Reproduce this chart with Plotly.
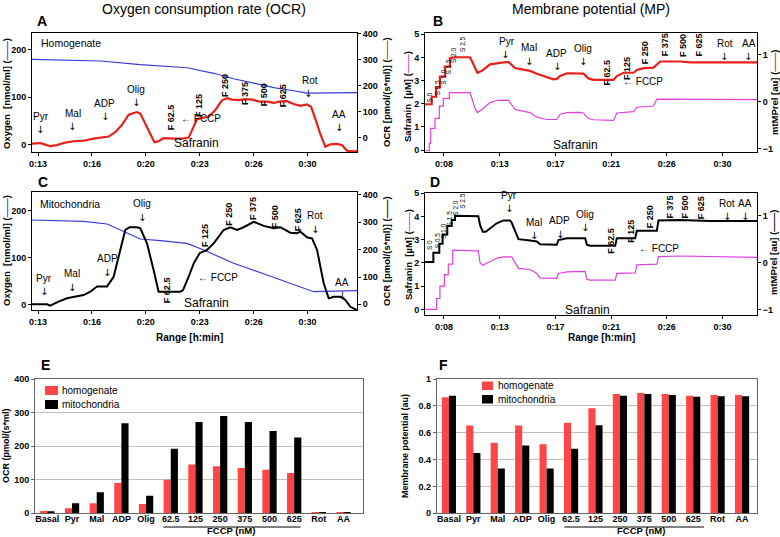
import plotly.graph_objects as go

W, H = 780, 537
FONT = "Liberation Sans, Arial, sans-serif"
ARROW_FONT = "DejaVu Sans, Liberation Sans, sans-serif"
RED = "#e8201c"
BLUE = "#3a3ad8"
PINK = "#e040e0"
BAR_RED = "#ff4545"

# ---------------- DATA ----------------
# Panel A (homogenate), time in minutes
a_o2_t = [12.96, 17.19, 19.66, 22.55, 24.2, 25.43, 26.67, 27.91, 29.14, 29.97, 33.06]
a_o2 = [178.8, 175.6, 167.8, 161.4, 149.8, 138.3, 129.3, 119.6, 113.2, 108.0, 109.3]
a_ocr_t = [12.96, 13.47, 13.78, 14.09, 14.5, 15.02, 15.54, 16.15, 16.77, 17.39, 17.7, 18.11,
           18.53, 18.94, 19.25, 19.45, 19.66, 19.97, 20.28, 20.53, 20.79, 21.1, 21.72, 22.24,
           22.65, 22.92, 23.16, 23.47, 23.89, 24.3, 24.71, 25.02, 25.33, 25.74, 26.15, 26.57,
           26.98, 27.5, 27.91, 28.32, 28.73, 29.14, 29.56, 29.97, 30.22, 30.49, 30.8, 31.1,
           31.41, 31.83, 32.14, 32.44, 32.75, 33.06]
a_ocr = [-23, -21, -27, -33, -29, -19, -14, -12, -4, 0, 4, 21, 49, 88, 94, 98, 92, 53, 18, -18,
         -14, -2, -4, -4, 0, 41, 70, 76, 80, 106, 143, 151, 146, 144, 148, 146, 139, 138, 133,
         139, 140, 129, 122, 127, 118, 71, 12, -35, -26, -24, -29, -50, -53, -52]

# Panel C (mitochondria)
c_o2_t = [12.96, 16.15, 17.6, 18.63, 19.66, 20.9, 22.55, 23.58, 25.43, 27.5, 29.56, 30.38, 33.06]
c_o2 = [180.7, 177.9, 172.1, 155.7, 140.0, 136.4, 130.7, 116.4, 87.9, 62.9, 37.9, 27.1, 29.3]
c_ocr_t = [12.96, 13.89, 14.09, 14.6, 15.12, 15.74, 16.15, 16.57, 16.98, 17.6, 18.01, 18.42,
           18.73, 19.0, 19.45, 19.66, 20.07, 20.48, 20.79, 22.13, 22.3, 22.65, 22.96, 23.33,
           23.78, 24.2, 24.81, 25.23, 25.64, 26.05, 26.67, 27.29, 27.91, 28.32, 28.94, 29.35,
           29.56, 29.97, 30.28, 30.59, 31.0, 31.31, 31.62, 32.03, 32.34, 32.65, 33.06]
c_ocr = [0, 0, -5, 10, 22, 28, 34, 46, 65, 65, 101, 199, 272, 282, 282, 278, 223, 126, 46, 46,
         52, 101, 150, 187, 199, 223, 272, 282, 272, 282, 302, 287, 278, 282, 262, 260, 266,
         245, 241, 199, 77, 22, 28, 28, 16, -9, -21]

# Panel B (homogenate membrane potential)
b_mp_t = [7.1, 7.63, 7.63, 7.97, 7.97, 8.28, 8.28, 8.68, 8.68, 9.07, 9.07, 9.47, 10.66, 11.05,
          11.24, 11.6, 12.24, 13.29, 13.69, 14.21, 14.87, 15.4, 15.93, 16.72, 17.24, 17.51,
          17.77, 18.3, 19.35, 19.61, 20.01, 20.41, 21.99, 22.25, 22.78, 23.57, 23.83, 24.36,
          25.15, 25.41, 25.68, 27.26, 28.05, 33.32]
b_mp = [-0.05, -0.05, 0.11, 0.11, 0.31, 0.31, 0.54, 0.54, 0.75, 0.75, 0.93, 0.95, 0.95, 0.75,
        0.62, 0.66, 0.8, 0.84, 0.85, 0.72, 0.68, 0.66, 0.6, 0.52, 0.48, 0.49, 0.55, 0.61, 0.61,
        0.6, 0.5, 0.47, 0.47, 0.55, 0.62, 0.62, 0.68, 0.72, 0.73, 0.79, 0.86, 0.86, 0.84, 0.84]
b_saf_t = [7.1, 7.44, 7.44, 7.55, 7.55, 7.89, 7.89, 8.23, 8.23, 8.55, 8.55, 9.02, 9.02, 10.66,
           11.05, 11.24, 11.6, 12.24, 12.76, 13.69, 14.21, 14.87, 15.4, 15.93, 16.72, 17.51,
           17.77, 18.3, 19.35, 19.61, 20.01, 20.41, 21.99, 22.25, 23.57, 23.83, 25.15, 25.41,
           28.05, 33.32]
b_saf = [-0.03, -0.03, 0.29, 0.29, 0.94, 0.94, 1.37, 1.37, 1.9, 1.9, 2.23, 2.23, 2.48, 2.48,
         1.8, 1.62, 1.75, 2.05, 2.14, 2.16, 1.75, 1.66, 1.62, 1.42, 1.32, 1.32, 1.55, 1.62, 1.63,
         1.6, 1.36, 1.31, 1.28, 1.6, 1.66, 1.85, 1.9, 2.2, 2.2, 2.18]

# Panel D (mitochondria membrane potential)
d_mp_t = [7.1, 7.76, 7.76, 8.23, 8.23, 8.49, 8.49, 8.86, 8.86, 9.21, 9.21, 9.47, 9.47, 11.31,
          11.45, 11.66, 11.9, 12.76, 13.29, 13.82, 13.95, 14.48, 15.4, 15.93, 16.19, 17.51,
          17.64, 18.3, 19.75, 19.88, 20.14, 22.12, 22.25, 23.7, 23.83, 25.41, 25.54, 27.26,
          29.63, 33.32]
d_mp = [0.01, 0.01, 0.21, 0.21, 0.4, 0.4, 0.6, 0.6, 0.78, 0.78, 0.91, 0.91, 1.0, 0.99, 0.8,
        0.66, 0.66, 0.84, 0.9, 0.9, 0.85, 0.5, 0.47, 0.45, 0.39, 0.38, 0.48, 0.52, 0.52, 0.38,
        0.36, 0.36, 0.52, 0.52, 0.68, 0.68, 0.9, 0.91, 0.89, 0.89]
d_saf_t = [7.1, 8.02, 8.02, 8.28, 8.28, 8.63, 8.63, 8.94, 8.94, 9.29, 9.29, 11.31, 11.45, 11.66,
           12.0, 12.76, 13.29, 13.95, 14.48, 15.4, 15.93, 16.19, 17.51, 17.64, 18.3, 19.75,
           19.88, 20.14, 22.12, 22.25, 23.7, 23.83, 25.41, 25.54, 27.26, 33.32]
d_saf = [0, 0, 0.47, 0.47, 1.0, 1.0, 1.5, 1.5, 1.95, 1.95, 2.55, 2.52, 2.0, 1.9, 2.0, 2.2, 2.26,
         2.26, 1.77, 1.72, 1.55, 1.36, 1.34, 1.55, 1.62, 1.64, 1.3, 1.26, 1.26, 1.55, 1.57,
         1.92, 1.95, 2.27, 2.3, 2.24]

# Time tick labels
ac_tickvals = [13.333, 16.667, 20.0, 23.333, 26.667, 30.0]
ac_ticktext = ["0:13", "0:16", "0:20", "0:23", "0:26", "0:30"]
bd_tickvals = [8.6, 13.0, 17.4, 21.8, 26.2, 30.6]
bd_ticktext = ["0:08", "0:13", "0:17", "0:21", "0:26", "0:30"]

# Bar panels
categories = ["Basal", "Pyr", "Mal", "ADP", "Olig", "62.5", "125", "250", "375", "500", "625",
              "Rot", "AA"]
e_homogenate = [7, 15, 30, 90, 28, 100, 145, 140, 135, 130, 120, 4, 4]
e_mitochondria = [6, 30, 63, 268, 52, 192, 272, 290, 272, 245, 226, 3, 4]
f_homogenate = [0.864, 0.653, 0.526, 0.653, 0.514, 0.675, 0.782, 0.888, 0.896, 0.888, 0.876,
                0.881, 0.881]
f_mitochondria = [0.876, 0.449, 0.333, 0.504, 0.333, 0.481, 0.655, 0.876, 0.888, 0.881, 0.868,
                  0.871, 0.871]
series_names = ["homogenate", "mitochondria"]


def px_x(p):
    return p / W


def px_y(p):
    return 1 - p / H


fig = go.Figure()

def line(x, y, xa, ya, color, width):
    fig.add_trace(go.Scatter(x=x, y=y, xaxis=xa, yaxis=ya, mode="lines",
                             line=dict(color=color, width=width), showlegend=False,
                             hoverinfo="skip"))

line(a_o2_t, a_o2, "x", "y", BLUE, 1.2)
line(a_ocr_t, a_ocr, "x", "y2", RED, 2.2)
line(b_saf_t, b_saf, "x2", "y3", PINK, 1.2)
line(b_mp_t, b_mp, "x2", "y4", RED, 2.2)
line(c_o2_t, c_o2, "x3", "y5", BLUE, 1.2)
line(c_ocr_t, c_ocr, "x3", "y6", "black", 2.0)
line(d_saf_t, d_saf, "x4", "y7", PINK, 1.2)
line(d_mp_t, d_mp, "x4", "y8", "black", 2.0)

for vals, color, name, xa, ya in [(e_homogenate, BAR_RED, series_names[0], "x5", "y9"),
                                  (e_mitochondria, "black", series_names[1], "x5", "y9"),
                                  (f_homogenate, BAR_RED, series_names[0], "x6", "y10"),
                                  (f_mitochondria, "black", series_names[1], "x6", "y10")]:
    fig.add_trace(go.Bar(x=categories, y=vals, xaxis=xa, yaxis=ya, name=name,
                         marker=dict(color=color, line=dict(width=0)), showlegend=False))

TICKFONT = dict(family=FONT, size=9, color="black", weight="bold")


def time_x(x0, x1, y_anchor, rng, tv, tt):
    return dict(domain=[px_x(x0), px_x(x1)], anchor=y_anchor, range=rng, tickvals=tv,
                ticktext=tt, showline=True, linecolor="black", linewidth=1, mirror=True,
                ticks="outside", ticklen=3, tickcolor="black", tickfont=TICKFONT,
                showgrid=False, zeroline=False)


def left_y(top, bottom, x_anchor, rng, tv):
    return dict(domain=[px_y(bottom), px_y(top)], anchor=x_anchor, range=rng, tickvals=tv,
                showline=True, linecolor="black", linewidth=1, ticks="outside", ticklen=3,
                tickcolor="black", tickfont=TICKFONT, showgrid=False, zeroline=False)


def right_y(over, x_anchor, rng, tv):
    return dict(overlaying=over, side="right", anchor=x_anchor, range=rng, tickvals=tv,
                showline=True, linecolor="black", linewidth=1, ticks="outside", ticklen=3,
                tickcolor="black", tickfont=TICKFONT, showgrid=False, zeroline=False)


layout = dict(
    width=W, height=H, margin=dict(l=0, r=0, t=0, b=0, autoexpand=False),
    paper_bgcolor="white", plot_bgcolor="white",
    font=dict(family=FONT, size=10, color="black"),
    barmode="group", bargap=0.42, bargroupgap=0.0, showlegend=False,
    xaxis=time_x(32, 357, "y", [12.96, 33.06], ac_tickvals, ac_ticktext),
    yaxis=left_y(32.5, 152, "x", [-15.4, 235.4], [0, 100, 200]),
    yaxis2=right_y("y", "x", [-55.3, 403.5], [0, 100, 200, 300, 400]),
    xaxis2=time_x(425, 757, "y3", [7.1, 33.32], bd_tickvals, bd_ticktext),
    yaxis3=left_y(33.3, 151.7, "x2", [-0.07, 5.04], [0, 1, 2, 3, 4, 5]),
    yaxis4=right_y("y3", "x2", [-1.06, 1.46], [-1, 0, 1]),
    xaxis3=time_x(32, 357, "y5", [12.96, 33.06], ac_tickvals, ac_ticktext),
    yaxis5=left_y(192.3, 310, "x3", [-12.1, 240], [0, 100, 200]),
    yaxis6=right_y("y5", "x3", [-20.7, 409.8], [0, 100, 200, 300, 400]),
    xaxis4=time_x(425, 757, "y7", [7.1, 33.32], bd_tickvals, bd_ticktext),
    yaxis7=left_y(193.3, 315, "x4", [-0.24, 5.0], [0, 1, 2, 3, 4, 5]),
    yaxis8=right_y("y7", "x4", [-1.12, 1.48], [-1, 0, 1]),
    xaxis5=dict(domain=[px_x(35), px_x(363.3)], anchor="y9", type="category",
                range=[-0.5, 12.8], showline=True, mirror=True, linecolor="#666",
                ticks="", ticklabelstandoff=-3, tickfont=TICKFONT, showgrid=False,
                zeroline=False),
    yaxis9=dict(domain=[px_y(513.3), px_y(379)], anchor="x5", range=[0, 400], dtick=100,
                showline=True, mirror=True, linecolor="#666", ticks="outside", ticklen=3,
                tickcolor="#666", tickfont=TICKFONT, showgrid=True, gridcolor="#c0c0c0",
                zeroline=False),
    xaxis6=dict(domain=[px_x(436.7), px_x(756.7)], anchor="y10", type="category",
                range=[-0.5, 12.6], showline=True, mirror=True, linecolor="#666",
                ticks="", ticklabelstandoff=-3, tickfont=TICKFONT, showgrid=False,
                zeroline=False),
    yaxis10=dict(domain=[px_y(513.3), px_y(379)], anchor="x6", range=[0, 1], dtick=0.2,
                 tickformat=".1~f", showline=True, mirror=True, linecolor="#666",
                 ticks="outside", ticklen=3, tickcolor="#666", tickfont=TICKFONT,
                 showgrid=True, gridcolor="#c0c0c0", zeroline=False),
)
fig.update_layout(**layout)


def ann(x, y, text, xref="paper", yref="paper", size=10, bold=False, angle=0,
        xanchor="center", yanchor="middle", color="black", family=FONT):
    fig.add_annotation(x=x, y=y, xref=xref, yref=yref, text=text, showarrow=False,
                       textangle=angle, xanchor=xanchor, yanchor=yanchor, borderpad=0,
                       font=dict(family=family, size=size, color=color,
                                 weight="bold" if bold else "normal"))


def pann(px, py, text, **kw):
    ann(px_x(px), px_y(py), text, **kw)


def arrow(x, y, xr, yr):
    ann(x, y, "↓", xref=xr, yref=yr, size=10, family=ARROW_FONT)


# Titles and panel letters
pann(204, 9, "Oxygen consumption rate (OCR)", size=14)
pann(591, 9, "Membrane potential (MP)", size=14)
for letter, lx, ly in [("A", 42, 21), ("B", 438, 21), ("C", 43, 182), ("D", 435, 182),
                       ("E", 45, 365), ("F", 443, 365)]:
    pann(lx, ly, letter, size=14, bold=True)

# Axis titles
def bracket(color):
    return "(<span style='color:%s'>——</span>)" % color

pann(6, 94, "Oxygen  [nmol/ml] " + bracket(BLUE), size=9.5, bold=True, angle=-90)
pann(386, 92, "OCR [pmol/(s*ml)] " + bracket(RED), size=9.5, bold=True, angle=-90)
pann(6, 251, "Oxygen  [nmol/ml] " + bracket(BLUE), size=9.5, bold=True, angle=-90)
pann(386, 251, "OCR [pmol/(s*ml)] " + bracket("black"), size=9.5, bold=True, angle=-90)
pann(408, 97, "Safranin  [µM] " + bracket(PINK), size=9.5, bold=True, angle=-90)
pann(774, 92, "mtMPrel [au] " + bracket(RED), size=9.5, bold=True, angle=-90)
pann(408, 255, "Safranin  [µM] " + bracket(PINK), size=9.5, bold=True, angle=-90)
pann(774, 252, "mtMPrel [au] " + bracket("black"), size=9.5, bold=True, angle=-90)
pann(189, 337, "Range [h:min]", size=10, bold=True)
pann(601, 337, "Range [h:min]", size=10, bold=True)
pann(6, 446, "OCR (pmol/(s*ml)", size=9, bold=True, angle=-90)
pann(405, 446, "Membrane potential (au)", size=9, bold=True, angle=-90)


def panel_labels(xr, yr, items, arrows, flabels, fccp, saf, name):
    ann(name[0], name[1], name[2], xref=xr, yref=yr, size=10.5, xanchor="left")
    for (x, y, t) in items:
        ann(x, y, t, xref=xr, yref=yr, size=10)
    for (x, y) in arrows:
        arrow(x, y, xr, yr)
    for (x, y, t) in flabels:
        ann(x, y, t, xref=xr, yref=yr, size=9, bold=True, angle=-90)
    ann(fccp[0], fccp[1], "← FCCP", xref=xr, yref=yr, size=10, xanchor="left")
    ann(saf[0], saf[1], "Safranin", xref=xr, yref=yr, size=12)


# Panel A
panel_labels("x", "y2",
             [(13.54, 82, "Pyr"), (15.47, 94, "Mal"), (17.45, 131, "ADP"), (19.41, 184, "Olig"),
              (30.13, 220, "Rot"), (31.93, 87, "AA")],
             [(13.47, 32), (15.43, 44), (17.5, 81), (19.41, 134), (30.01, 170), (31.93, 37)],
             [(21.52, 80, "F 62.5"), (23.33, 124, "F 125"), (24.86, 200, "F 250"),
              (26.15, 168, "F 375"), (27.29, 165, "F 500"), (28.53, 162, "F 625")],
             (22.13, 73), (23.12, -21), (13.47, 365, "Homogenate"))
# Panel C
panel_labels("x3", "y6",
             [(13.68, 96, "Pyr"), (15.43, 113, "Mal"), (17.6, 168, "ADP"), (19.76, 368, "Olig"),
              (30.49, 325, "Rot"), (32.14, 81, "AA")],
             [(13.68, 46), (15.43, 63), (17.6, 118), (19.76, 318), (30.49, 275), (32.14, 33)],
             [(21.31, 52, "F 62.5"), (23.62, 251, "F 125"), (25.12, 330, "F 250"),
              (26.67, 351, "F 375"), (27.97, 321, "F 500"), (29.41, 311, "F 625")],
             (23.16, 98), (23.74, 6), (13.37, 367, "Mitochondria"))

# Panel B
for (x, y, t) in [(7.44, 0.1, "S 0"), (8.1, 0.3, "S 0.5"), (8.5, 0.53, "S 1.0"),
                  (8.95, 0.76, "S 1.5"), (9.4, 1.0, "S 2.0"), (10.05, 1.24, "S 2.5")]:
    ann(x, y, t, xref="x2", yref="y4", size=6.5, angle=-90)
for (x, y, t) in [(13.61, 1.29, "Pyr"), (15.35, 1.15, "Mal"), (17.51, 1.03, "ADP"),
                  (19.54, 1.13, "Olig"), (30.81, 1.24, "Rot"), (32.66, 1.24, "AA")]:
    ann(x, y, t, xref="x2", yref="y4", size=10)
for (x, y) in [(13.42, 1.01), (15.35, 0.87), (17.51, 0.75), (19.54, 0.85), (30.73, 0.96),
               (32.58, 0.96)]:
    arrow(x, y, "x2", "y4")
for (x, y, t) in [(21.46, 0.62, "F 62.5"), (23.04, 0.72, "F 125"), (24.49, 1.04, "F 250"),
                  (26.07, 1.21, "F 375"), (27.47, 1.21, "F 500"), (28.78, 1.21, "F 625")]:
    ann(x, y, t, xref="x2", yref="y4", size=9, bold=True, angle=-90)
ann(22.65, 0.43, "← FCCP", xref="x2", yref="y4", size=10, xanchor="left")
ann(18.96, -0.91, "Safranin", xref="x2", yref="y4", size=12)

# Panel D
for (x, y, t) in [(7.44, 0.38, "S 0"), (8.1, 0.47, "S 0.5"), (8.55, 0.68, "S 1.0"),
                  (9.02, 0.95, "S 1.5"), (9.5, 1.18, "S 2.0"), (10.1, 1.32, "S 2.5")]:
    ann(x, y, t, xref="x4", yref="y8", size=6.5, angle=-90)
for (x, y, t) in [(13.74, 1.44, "Pyr"), (15.74, 0.86, "Mal"), (17.72, 0.89, "ADP"),
                  (19.75, 1.02, "Olig"), (30.94, 1.26, "Rot"), (32.34, 1.26, "AA")]:
    ann(x, y, t, xref="x4", yref="y8", size=10)
for (x, y) in [(13.74, 1.16), (15.74, 0.58), (17.77, 0.61), (19.75, 0.74), (30.94, 0.98),
               (32.34, 0.98)]:
    arrow(x, y, "x4", "y8")
for (x, y, t) in [(21.72, 0.47, "F 62.5"), (23.36, 0.68, "F 125"), (24.83, 0.98, "F 250"),
                  (26.47, 1.18, "F 375"), (27.65, 1.18, "F 500"), (28.89, 1.18, "F 625")]:
    ann(x, y, t, xref="x4", yref="y8", size=9, bold=True, angle=-90)
ann(23.96, 0.31, "← FCCP", xref="x4", yref="y8", size=10, xanchor="left")
ann(19.93, -1.02, "Safranin", xref="x4", yref="y8", size=12)

# FCCP underline + label for bar panels
fig.add_shape(type="line", xref="x5", yref="paper", x0=4.7, x1=10.26, y0=px_y(527),
              y1=px_y(527), line=dict(color="black", width=1))
fig.add_shape(type="line", xref="x6", yref="paper", x0=4.73, x1=10.44, y0=px_y(527),
              y1=px_y(527), line=dict(color="black", width=1))
ann(7.42, px_y(537), "FCCP (nM)", xref="x5", yref="paper", size=9.5, bold=True,
    yanchor="bottom")
ann(7.85, px_y(537), "FCCP (nM)", xref="x6", yref="paper", size=9.5, bold=True,
    yanchor="bottom")

# Hand-drawn legends for the bar panels (compact spacing as in the original)
for (sx0, sx1, sy0, sy1, tx, ty) in [(45, 58, 386, 395, 61, 390.5), (482, 493, 381.5, 390, 497, 385.7)]:
    step = 14 if sx0 < 400 else 13.5
    for k, (nm, col) in enumerate(zip(series_names, [BAR_RED, "black"])):
        fig.add_shape(type="rect", xref="paper", yref="paper",
                      x0=px_x(sx0), x1=px_x(sx1), y0=px_y(sy0 + k * step),
                      y1=px_y(sy1 + k * step), fillcolor=col, line=dict(width=0))
        pann(tx, ty + k * step, nm, size=10, xanchor="left")

fig.write_html("out.html", config={"displayModeBar": False},
               post_script="document.body.style.margin='0px';")
